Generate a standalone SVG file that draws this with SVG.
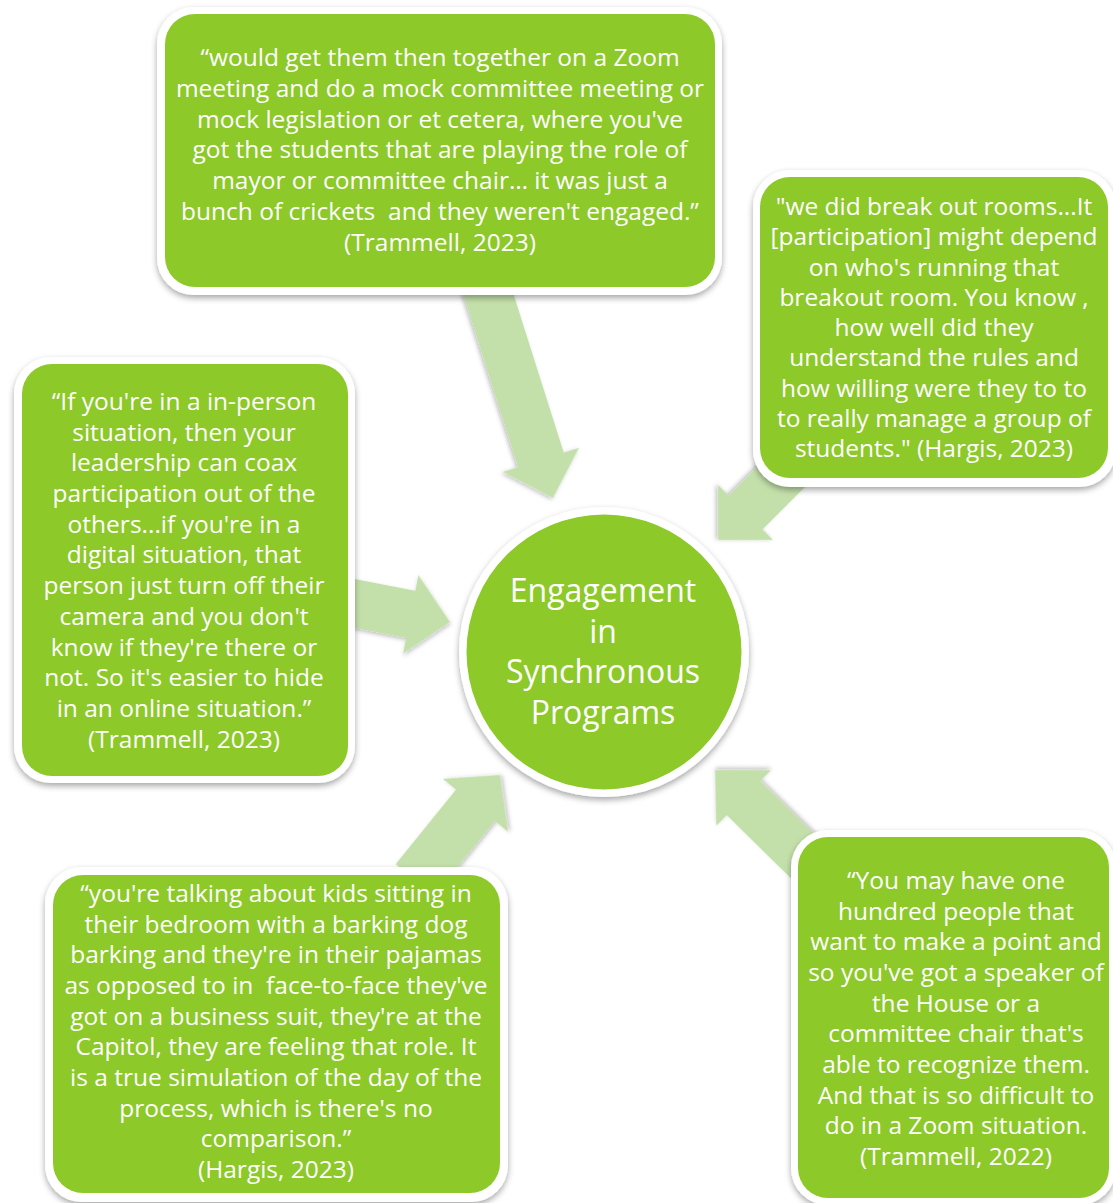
<svg xmlns="http://www.w3.org/2000/svg" width="1113" height="1203" viewBox="0 0 1113 1203">
  <defs>
    <filter id="boxShadow" x="-10%" y="-10%" width="120%" height="125%">
      <feDropShadow dx="0" dy="3" stdDeviation="3" flood-color="#000" flood-opacity="0.35"/>
    </filter>
    <filter id="arrowShadow" x="-20%" y="-20%" width="140%" height="140%">
      <feDropShadow dx="1" dy="2" stdDeviation="2" flood-color="#000" flood-opacity="0.25"/>
    </filter>
  </defs>
  <style>
    .frame { fill: #ffffff; filter: url(#boxShadow); }
    .card { fill: #8cc929; }
    .arrow { fill: #c4e0aa; filter: url(#arrowShadow); }
    .quote { font-family: "Open Sans", "Noto Sans", sans-serif; font-size: 24.5px; fill: #ffffff; text-anchor: middle; white-space: pre; }
    .hub { font-family: "Open Sans", "Noto Sans", sans-serif; font-size: 32px; fill: #ffffff; text-anchor: middle; }
  </style>

  <rect width="1113" height="1203" fill="#ffffff"/>

  <!-- connectors: block arrows pointing into the central circle (tip at origin, along +x) -->
  <g id="connectors">
    <polygon class="arrow" transform="translate(553,498) rotate(72.4)" points="-225,-24 -40,-24 -40,-40 0,0 -40,40 -40,24 -225,24"/>
    <polygon class="arrow" transform="translate(718,540) rotate(135)" points="-115,-24 -39,-24 -39,-39 0,0 -39,39 -39,24 -115,24"/>
    <polygon class="arrow" transform="translate(450,622) rotate(11)" points="-112,-24 -40,-24 -40,-40 0,0 -40,40 -40,24 -112,24"/>
    <polygon class="arrow" transform="translate(500,775) rotate(-51)" points="-135,-25 -39,-25 -39,-42 0,0 -39,42 -39,25 -135,25"/>
    <polygon class="arrow" transform="translate(715,770) rotate(-135.5)" points="-130,-24 -40,-24 -40,-39 0,0 -40,39 -40,24 -130,24"/>
  </g>

  <!-- central topic -->
  <g id="hub">
    <circle class="frame" cx="604" cy="652" r="145"/>
    <circle class="card" cx="604" cy="652" r="137.5"/>
    <text class="hub" x="603" y="602">Engagement</text>
    <text class="hub" x="603" y="642.5">in</text>
    <text class="hub" x="603" y="683">Synchronous</text>
    <text class="hub" x="603" y="723.5">Programs</text>
  </g>

  <!-- quote cards -->
  <g id="quote-top">
    <rect class="frame" x="157" y="7" width="565" height="288" rx="37"/>
    <rect class="card" x="165" y="14" width="550" height="273" rx="30"/>
    <text class="quote" x="440" y="66">“would get them then together on a Zoom</text>
    <text class="quote" x="440" y="97">meeting and do a mock committee meeting or</text>
    <text class="quote" x="440" y="128">mock legislation or et cetera, where you've</text>
    <text class="quote" x="440" y="158">got the students that are playing the role of</text>
    <text class="quote" x="440" y="189">mayor or committee chair… it was just a</text>
    <text class="quote" x="440" y="220">bunch of crickets  and they weren't engaged.”</text>
    <text class="quote" x="440" y="251">(Trammell, 2023)</text>
  </g>

  <g id="quote-right">
    <rect class="frame" x="753" y="170" width="363" height="317" rx="37"/>
    <rect class="card" x="760" y="177" width="348" height="301" rx="30"/>
    <text class="quote" x="934" y="215">"we did break out rooms...It</text>
    <text class="quote" x="934" y="245">[participation] might depend</text>
    <text class="quote" x="934" y="276">on who's running that</text>
    <text class="quote" x="934" y="306">breakout room. You know ,</text>
    <text class="quote" x="934" y="336">how well did they</text>
    <text class="quote" x="934" y="366">understand the rules and</text>
    <text class="quote" x="934" y="397">how willing were they to to</text>
    <text class="quote" x="934" y="427">to really manage a group of</text>
    <text class="quote" x="934" y="457">students." (Hargis, 2023)</text>
  </g>

  <g id="quote-left">
    <rect class="frame" x="14" y="357" width="341" height="426" rx="37"/>
    <rect class="card" x="22" y="364" width="326" height="412" rx="30"/>
    <text class="quote" x="184" y="410">“If you're in a in-person</text>
    <text class="quote" x="184" y="441">situation, then your</text>
    <text class="quote" x="184" y="471">leadership can coax</text>
    <text class="quote" x="184" y="502">participation out of the</text>
    <text class="quote" x="184" y="533">others...if you're in a</text>
    <text class="quote" x="184" y="563">digital situation, that</text>
    <text class="quote" x="184" y="594">person just turn off their</text>
    <text class="quote" x="184" y="625">camera and you don't</text>
    <text class="quote" x="184" y="656">know if they're there or</text>
    <text class="quote" x="184" y="686">not. So it's easier to hide</text>
    <text class="quote" x="184" y="717">in an online situation.”</text>
    <text class="quote" x="184" y="748">(Trammell, 2023)</text>
  </g>

  <g id="quote-bottom-left">
    <rect class="frame" x="45" y="867" width="463" height="335" rx="37"/>
    <rect class="card" x="53" y="875" width="447" height="318" rx="30"/>
    <text class="quote" x="276" y="902">“you're talking about kids sitting in</text>
    <text class="quote" x="276" y="933">their bedroom with a barking dog</text>
    <text class="quote" x="276" y="963">barking and they're in their pajamas</text>
    <text class="quote" x="276" y="994">as opposed to in  face-to-face they've</text>
    <text class="quote" x="276" y="1025">got on a business suit, they're at the</text>
    <text class="quote" x="276" y="1055">Capitol, they are feeling that role. It</text>
    <text class="quote" x="276" y="1086">is a true simulation of the day of the</text>
    <text class="quote" x="276" y="1117">process, which is there's no</text>
    <text class="quote" x="276" y="1147">comparison.”</text>
    <text class="quote" x="276" y="1178">(Hargis, 2023)</text>
  </g>

  <g id="quote-bottom-right">
    <rect class="frame" x="791" y="830" width="325" height="375" rx="37"/>
    <rect class="card" x="798" y="837" width="311" height="361" rx="30"/>
    <text class="quote" x="956" y="889">“You may have one</text>
    <text class="quote" x="956" y="920">hundred people that</text>
    <text class="quote" x="956" y="950">want to make a point and</text>
    <text class="quote" x="956" y="981">so you've got a speaker of</text>
    <text class="quote" x="956" y="1012">the House or a</text>
    <text class="quote" x="956" y="1042">committee chair that's</text>
    <text class="quote" x="956" y="1073">able to recognize them.</text>
    <text class="quote" x="956" y="1104">And that is so difficult to</text>
    <text class="quote" x="956" y="1134">do in a Zoom situation.</text>
    <text class="quote" x="956" y="1165">(Trammell, 2022)</text>
  </g>
</svg>
